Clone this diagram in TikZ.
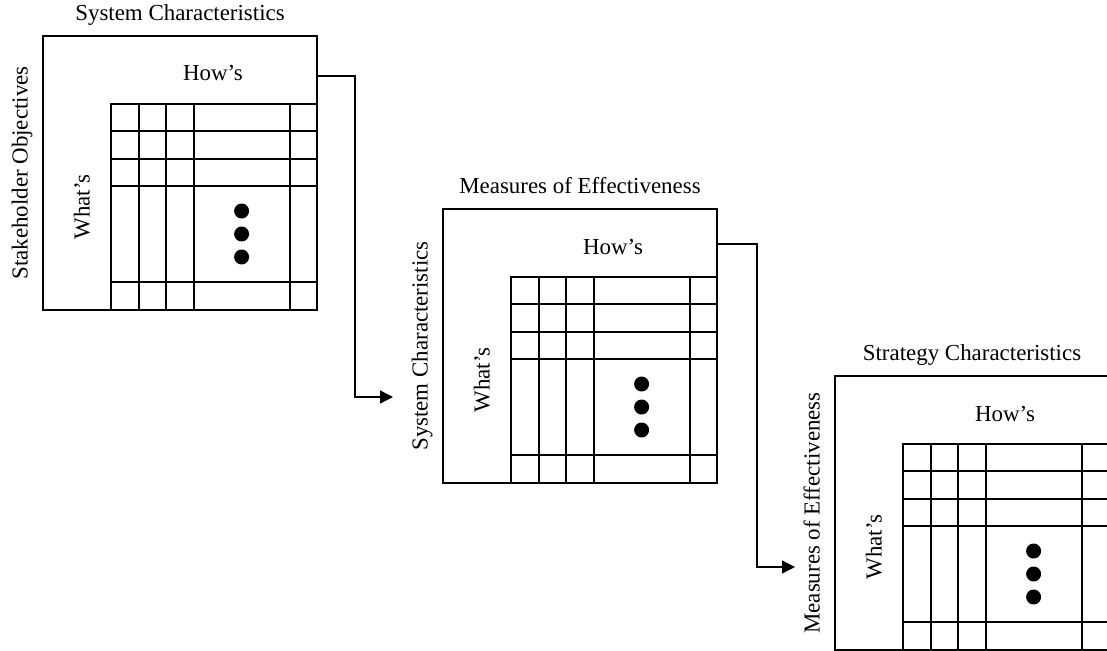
\documentclass[tikz,border=0pt]{standalone}
\usepackage{fontspec}
\setmainfont{Liberation Serif}
\usetikzlibrary{arrows.meta}
\tikzset{
  boxframe/.style={draw, line width=1.5bp, minimum width=274bp, minimum height=274bp, anchor=north west, inner sep=0pt, outer sep=0pt},
  gridline/.style={line width=1.5bp},
  gridedge/.style={line width=2bp},
  lbl/.style={font=\fontsize{23}{27}\selectfont, inner sep=0pt},
  conn/.style={line width=1.3bp, -{Triangle[length=13bp,width=13bp]}},
  bigdot/.style={circle, fill=black, inner sep=0pt, minimum size=15bp},
}
\newcommand{\qfdbox}[5]{%
  \node[boxframe] (#1) at (#2,#3) {};
  \begin{scope}[shift={(#2,#3)}]
    \foreach \c in {96,123,151,247} \draw[gridline] (\c,68) -- (\c,274);
    \foreach \r in {95,123,150,246} \draw[gridline] (68,\r) -- (274,\r);
    \draw[gridline] (68,274) -- (68,68) -- (274,68);
    \draw[gridedge] (68,274) -- (274,274) -- (274,68);
    \node[bigdot] (#1d1) at (198.6,175) {};
    \node[bigdot] (#1d2) at (198.6,198) {};
    \node[bigdot] (#1d3) at (198.6,221) {};
    \node[lbl, anchor=base] (#1how) at (170,45) {How’s};
    \node[lbl, anchor=base, rotate=90] (#1what) at (46.6,171) {What’s};
    \node[lbl, anchor=base] (#1title) at (137,-15.3) {#4};
    \node[lbl, anchor=base, rotate=90] (#1side) at (-15.4,137) {#5};
  \end{scope}}
\begin{document}
\begin{tikzpicture}[x=1bp, y=-1bp]
  \useasboundingbox (0,0) rectangle (1107,651);
  \clip (0,0) rectangle (1107,651);
  \qfdbox{b1}{43}{36}{System Characteristics}{Stakeholder Objectives}
  \qfdbox{b2}{443}{209}{Measures of Effectiveness}{System Characteristics}
  \qfdbox{b3}{835}{376}{Strategy Characteristics}{Measures of Effectiveness}
  \coordinate (a1s) at ([yshift=-40bp]b1.north east);
  \coordinate (a1e) at (393,397);
  \coordinate (a2s) at ([yshift=-35bp]b2.north east);
  \coordinate (a2e) at (795,567);
  \draw[conn] (a1s) -- ++(38,0) |- (a1e);
  \draw[conn] (a2s) -- ++(40,0) |- (a2e);
\end{tikzpicture}
\end{document}
